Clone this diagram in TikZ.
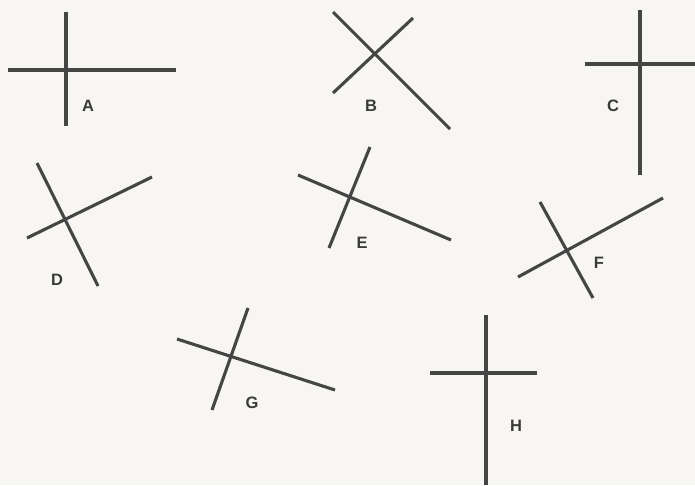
\documentclass[tikz,border=0pt]{standalone}
\usepackage{fontspec}
\setmainfont{Liberation Sans}
\definecolor{bgc}{HTML}{F8F6F3}
\definecolor{inkc}{HTML}{454545}
\definecolor{labc}{HTML}{3A3A3A}
\begin{document}
\begin{tikzpicture}[x=1pt,y=-1pt,
  bar/.style={draw=inkc,line width=3.1pt},
  lab/.style={text=labc,font=\bfseries\fontsize{16.5}{16.5}\selectfont,inner sep=0pt}]
\fill[bgc] (0,0) rectangle (695,485);
\useasboundingbox (0,0) rectangle (695,485);
% A
\draw[bar] (66,12) -- (66,126);
\draw[bar] (8,70) -- (176,70);
\node[lab] (la) at (88,106) {A};
% B
\draw[bar] (333,12) -- (450,129);
\draw[bar] (333,93) -- (413,18);
\node[lab] (lb) at (371,106) {B};
% C
\draw[bar] (640,10) -- (640,175);
\draw[bar] (585,64) -- (695,64);
\node[lab] (lc) at (613,106) {C};
% D
\draw[bar] (37,163) -- (98,286);
\draw[bar] (27,238) -- (152,177);
\node[lab] (ld) at (57,280) {D};
% E
\draw[bar] (298,175) -- (451,240);
\draw[bar] (329,248) -- (370,147);
\node[lab] (le) at (362,243) {E};
% F
\draw[bar] (518,277) -- (663,198);
\draw[bar] (540,202) -- (593,298);
\node[lab] (lf) at (599,263) {F};
% G
\draw[bar] (177,339) -- (335,390);
\draw[bar] (212,410) -- (248,308);
\node[lab] (lg) at (252,403) {G};
% H
\draw[bar] (486,315) -- (486,485);
\draw[bar] (430,373) -- (537,373);
\node[lab] (lh) at (516,426) {H};
\end{tikzpicture}
\end{document}
